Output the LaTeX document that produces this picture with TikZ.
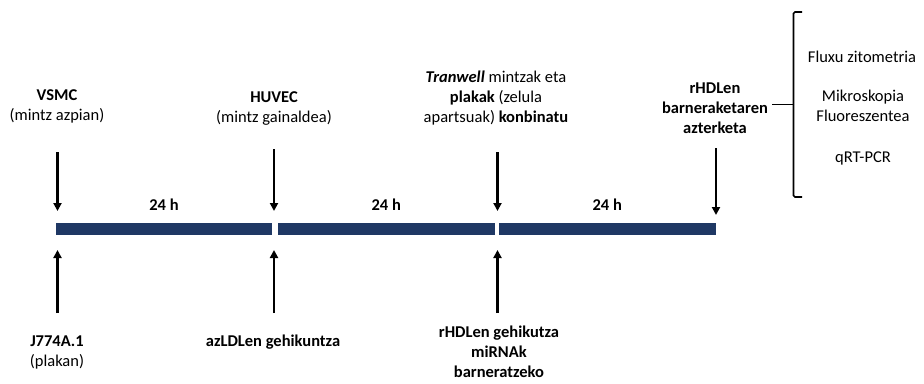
\documentclass[tikz,border=0pt]{standalone}
\usepackage{fontspec}
\setmainfont{Carlito}
\usetikzlibrary{arrows.meta}
\definecolor{barblue}{RGB}{31,56,100}
\tikzset{
  lbl/.style={align=center, inner sep=0pt, font=\fontsize{16.5}{20}\selectfont},
  arr/.style={line width=2.1pt, -{Triangle[width=8pt,length=8pt]}},
}
\begin{document}
\begin{tikzpicture}[x=1pt, y=-1pt]
	\useasboundingbox (0,0) rectangle (924,383);
	\def \bartop{223}
	\def \barbot{235}
	\foreach \a/\b [count=\i] in {56/272, 278/494.5, 499/715.5}
	{ \fill[barblue] (\a, \bartop) rectangle (\b, \barbot);
	  \node[lbl, anchor=base] (h\i) at ({(\a+\b)/2}, 210) {\textbf{24 h}};
	}
	\node[lbl] (vsmc) at (57, 106) {\textbf{VSMC}\\(mintz azpian)};
	\node[lbl] (huvec) at (274, 109) {\textbf{HUVEC}\\(mintz gainaldea)};
	\node[lbl] (tranwell) at (496, 98) {\textbf{\textit{Tranwell}} mintzak eta\\\textbf{plakak} (zelula\\apartsuak) \textbf{konbinatu}};
	\node[lbl] (analysis) at (715, 108) {\textbf{rHDLen}\\\textbf{barneraketaren}\\\textbf{azterketa}};
	\node[lbl] (j774) at (57, 352) {\textbf{J774A.1}\\(plakan)};
	\node[lbl, anchor=base] (azldl) at (273, 346) {\textbf{azLDLen gehikuntza}};
	\node[lbl] (rhdl) at (499, 352) {\textbf{rHDLen gehikutza}\\\textbf{miRNAk}\\\textbf{barneratzeko}};
	\node[lbl, anchor=base] (flux) at (862, 62) {Fluxu zitometria};
	\node[lbl] (mikro) at (863, 106) {Mikroskopia\\Fluoreszentea};
	\node[lbl, anchor=base] (qrt) at (863, 162) {qRT-PCR};
	\foreach \n/\x/\s/\e in {1/57.5/152/211, 2/274/149/211, 3/497.5/152/211, 4/716/148/215}
	{ \coordinate (ds\n) at (\x, \s);
	  \coordinate (de\n) at (\x, \e);
	  \draw[arr] (ds\n) -- (de\n);
	}
	\foreach \n/\x in {1/57.5, 2/274, 3/497.5}
	{ \coordinate (us\n) at (\x, 313);
	  \coordinate (ue\n) at (\x, 250);
	  \draw[arr] (us\n) -- (ue\n);
	}
	\draw[line width=1.7pt, rounded corners=1.5pt] (802, 12) -- (793.5, 12) -- (793.5, 197) -- (802, 197);
	\coordinate (tip) at (793.5, 104.5);
	\draw[line width=1.7pt] ([xshift=4pt]analysis.east |- tip) -- (tip);
\end{tikzpicture}
\end{document}
